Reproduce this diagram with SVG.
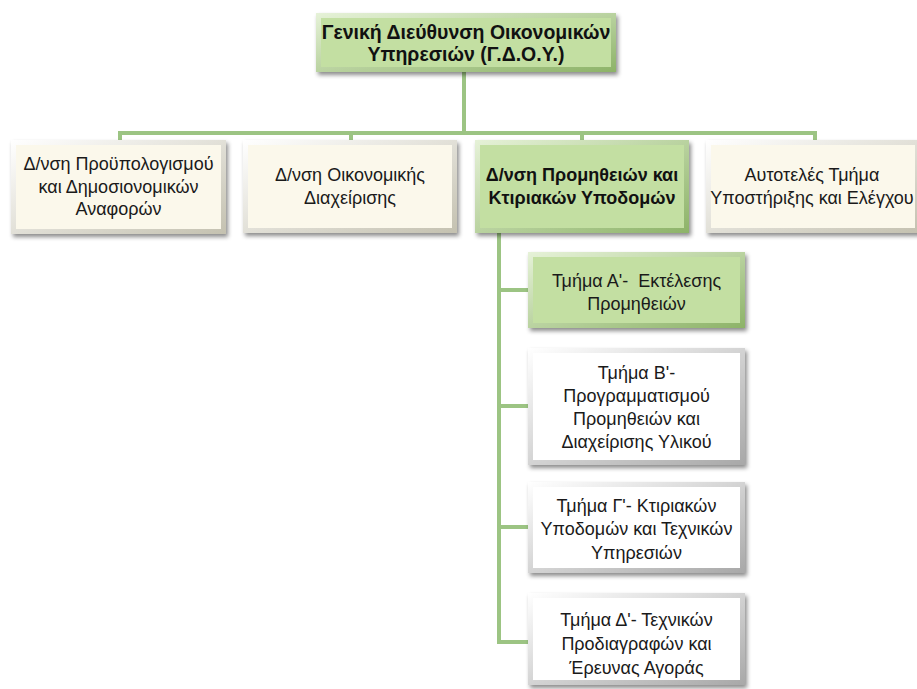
<svg xmlns="http://www.w3.org/2000/svg" width="917" height="689" viewBox="0 0 917 689">
<defs>
<filter id="sh" x="-10%" y="-10%" width="130%" height="140%">
<feDropShadow dx="2" dy="3" stdDeviation="2" flood-color="#000" flood-opacity="0.45"/>
</filter>
<linearGradient id="bvG" x1="0" y1="0" x2="1" y2="1">
<stop offset="0" stop-color="#e6f2d8"/><stop offset="1" stop-color="#8db368"/>
</linearGradient>
<linearGradient id="bvC" x1="0" y1="0" x2="1" y2="1">
<stop offset="0" stop-color="#ffffff"/><stop offset="1" stop-color="#c4c1b0"/>
</linearGradient>
<linearGradient id="bvW" x1="0" y1="0" x2="1" y2="1">
<stop offset="0" stop-color="#ffffff"/><stop offset="1" stop-color="#a8a8a8"/>
</linearGradient>
</defs>
<style>
.g{fill:url(#bvG)} .gi{fill:#c3dfa2}
.c{fill:url(#bvC)} .ci{fill:#fbf8eb}
.w{fill:url(#bvW)} .wi{fill:#ffffff}
.box{filter:url(#sh)}
.t{font-family:"Liberation Sans",Arial,sans-serif;font-size:18px;fill:#1a1a1a;text-anchor:middle}
.b{font-weight:bold;fill:#111;font-size:18px}
.tt{font-size:19.5px}
.ln{stroke:#9cc483;stroke-width:4;fill:none}
</style>
<rect width="917" height="689" fill="#ffffff"/>
<g id="connectors">
<path class="ln" d="M464 72V133M118 133H815M120 131V140M351 131V140M582 131V140M815 131V140"/>
<path class="ln" d="M499 233V642M497 290H528M497 406H528M497 527H528M497 642H528"/>
</g>
<g id="n-gdoy">
<rect class="box g" x="316" y="13" width="300" height="59"/>
<rect class="gi" x="321" y="18" width="290" height="49"/>
<text class="t b tt" x="466" y="39">Γενική Διεύθυνση Οικονομικών</text>
<text class="t b tt" x="466" y="61">Υπηρεσιών (Γ.Δ.Ο.Υ.)</text>
</g>
<g id="n-budget">
<rect class="box c" x="11" y="140" width="215" height="94"/>
<rect class="ci" x="16" y="145" width="205" height="84"/>
<text class="t" x="118.5" y="170">Δ/νση Προϋπολογισμού</text>
<text class="t" x="118.5" y="193">και Δημοσιονομικών</text>
<text class="t" x="118.5" y="215">Αναφορών</text>
</g>
<g id="n-finance">
<rect class="box c" x="243" y="140" width="214" height="93"/>
<rect class="ci" x="248" y="145" width="204" height="83"/>
<text class="t" x="350" y="181">Δ/νση Οικονομικής</text>
<text class="t" x="350" y="204">Διαχείρισης</text>
</g>
<g id="n-procurement">
<rect class="box g" x="475" y="140" width="214" height="93"/>
<rect class="gi" x="480" y="145" width="204" height="83"/>
<text class="t b" x="582" y="181">Δ/νση Προμηθειών και</text>
<text class="t b" x="582" y="204">Κτιριακών Υποδομών</text>
</g>
<g id="n-support">
<rect class="box c" x="706" y="140" width="214" height="93"/>
<rect class="ci" x="711" y="145" width="204" height="83"/>
<text class="t" x="812" y="181">Αυτοτελές Τμήμα</text>
<text class="t" x="812" y="204">Υποστήριξης και Ελέγχου</text>
</g>
<g id="n-a">
<rect class="box g" x="528" y="252" width="217" height="76"/>
<rect class="gi" x="533" y="257" width="207" height="66"/>
<text class="t" x="636.5" y="287" xml:space="preserve">Τμήμα Α'-  Εκτέλεσης</text>
<text class="t" x="636.5" y="310">Προμηθειών</text>
</g>
<g id="n-b">
<rect class="box w" x="528" y="348" width="217" height="117"/>
<rect class="wi" x="533" y="353" width="207" height="107"/>
<text class="t" x="636.5" y="379">Τμήμα Β'-</text>
<text class="t" x="636.5" y="402">Προγραμματισμού</text>
<text class="t" x="636.5" y="425">Προμηθειών και</text>
<text class="t" x="636.5" y="448">Διαχείρισης Υλικού</text>
</g>
<g id="n-c">
<rect class="box w" x="528" y="482" width="217" height="91"/>
<rect class="wi" x="533" y="487" width="207" height="81"/>
<text class="t" x="636.5" y="512">Τμήμα Γ'- Κτιριακών</text>
<text class="t" x="636.5" y="535">Υποδομών και Τεχνικών</text>
<text class="t" x="636.5" y="559">Υπηρεσιών</text>
</g>
<g id="n-d">
<rect class="box w" x="528" y="593" width="217" height="92"/>
<rect class="wi" x="533" y="598" width="207" height="82"/>
<text class="t" x="636.5" y="626">Τμήμα Δ'- Τεχνικών</text>
<text class="t" x="636.5" y="650">Προδιαγραφών και</text>
<text class="t" x="636.5" y="674">Έρευνας Αγοράς</text>
</g>
</svg>
